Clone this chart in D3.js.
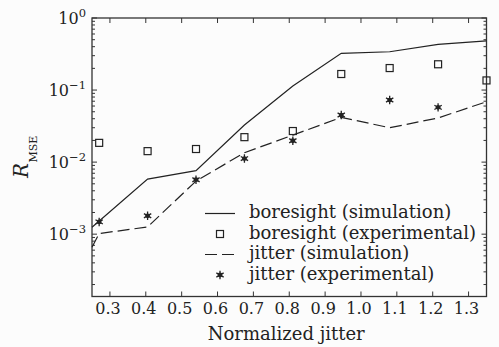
<!DOCTYPE html>
<html>
<head>
<meta charset="utf-8">
<script src="https://cdn.jsdelivr.net/npm/d3@7"></script>
<style>
  body { margin: 0; background: #fcfcfc; }
  svg { display: block; }
</style>
</head>
<body>
<div id="chart"></div>
<script>
// values
const xExp = [0.27, 0.405, 0.54, 0.675, 0.81, 0.945, 1.08, 1.215, 1.35];
const boresightExp = [0.0185, 0.0142, 0.0152, 0.0222, 0.027, 0.167, 0.202, 0.228, 0.136];
const jitterExp = [0.00148, 0.0018, 0.0057, 0.0112, 0.0198, 0.045, 0.0727, 0.0575];

const xBoreSim = [0.25, 0.405, 0.54, 0.675, 0.81, 0.945, 1.08, 1.215, 1.35];
const boresightSim = [0.00125, 0.0058, 0.0076, 0.0327, 0.114, 0.323, 0.34, 0.43, 0.48];

const xJitSim = [0.25, 0.27, 0.405, 0.54, 0.675, 0.81, 0.945, 1.08, 1.215, 1.35];
const jitterSim = [0.00066, 0.00102, 0.00126, 0.00545, 0.0135, 0.0237, 0.0418, 0.030, 0.041, 0.0688];

const xTicks = [0.3, 0.4, 0.5, 0.6, 0.7, 0.8, 0.9, 1.0, 1.1, 1.2, 1.3];
const yTickExps = [0, -1, -2, -3];

const legendLabels = [
    "boresight (simulation)",
    "boresight (experimental)",
    "jitter (simulation)",
    "jitter (experimental)"
];

const width = 499, height = 347;
const margin = { top: 18, right: 12.5, bottom: 50.5, left: 92 };
const ink = "#222";
const serif = "'DejaVu Serif', serif";

const svg = d3.select("#chart").append("svg")
    .attr("width", width).attr("height", height)
    .style("background", "#fcfcfc");

const x = d3.scaleLinear().domain([0.25, 1.35]).range([margin.left, width - margin.right]);
const y = d3.scaleLog().domain([Math.pow(10, -3.865), 1]).range([height - margin.bottom, margin.top]);

const [x0, x1] = x.range();
const [y0, y1] = y.range(); // y0 bottom, y1 top

// ticks: major + minor, drawn inward on all sides
const minorY = [];
for (let e = -4; e < 0; e++) {
    for (let m = 2; m <= 9; m++) {
        const v = m * Math.pow(10, e);
        if (v >= y.domain()[0] && v <= 1) minorY.push(v);
    }
}
const majorY = yTickExps.map(e => Math.pow(10, e));

const tickG = svg.append("g").attr("stroke", "#333").attr("stroke-width", 1);
[[x0, 1], [x1, -1]].forEach(([xx, dir]) => {
    tickG.selectAll(null).data(majorY).join("line")
        .attr("x1", xx).attr("x2", xx + dir * 5)
        .attr("y1", d => y(d)).attr("y2", d => y(d));
    tickG.selectAll(null).data(minorY).join("line")
        .attr("x1", xx).attr("x2", xx + dir * 3)
        .attr("y1", d => y(d)).attr("y2", d => y(d));
});
[[y0, -1], [y1, 1]].forEach(([yy, dir]) => {
    tickG.selectAll(null).data(xTicks).join("line")
        .attr("x1", d => x(d)).attr("x2", d => x(d))
        .attr("y1", yy).attr("y2", yy + dir * 5);
});

// frame
svg.append("rect")
    .attr("x", x0).attr("y", y1)
    .attr("width", x1 - x0).attr("height", y0 - y1)
    .attr("fill", "none").attr("stroke", "#333").attr("stroke-width", 1.3);

// x tick labels
svg.append("g").selectAll("text").data(xTicks).join("text")
    .attr("x", d => x(d) - 2).attr("y", y0 + 17)
    .attr("text-anchor", "middle")
    .attr("font-family", serif).attr("font-size", 16).attr("fill", ink)
    .text(d => d3.format(".1f")(d));

// y tick labels as 10^n
const yl = svg.append("g").selectAll("text").data(yTickExps).join("text")
    .attr("x", 86).attr("y", d => y(Math.pow(10, d)) + 5.5)
    .attr("text-anchor", "end")
    .attr("font-family", serif).attr("font-size", 16).attr("fill", ink);
yl.append("tspan").text("10");
yl.append("tspan").attr("dy", -7).attr("font-size", 11.5)
    .text(d => d === 0 ? "0" : "\u2212" + (-d));

// axis titles
svg.append("text")
    .attr("x", (x0 + x1) / 2 - 3).attr("y", 340)
    .attr("text-anchor", "middle")
    .attr("font-family", serif).attr("font-size", 18).attr("fill", ink)
    .text("Normalized jitter");

const yt = svg.append("text")
    .attr("transform", "translate(28,178) rotate(-90)")
    .attr("font-family", serif).attr("fill", ink);
yt.append("tspan").attr("font-size", 20).attr("font-style", "italic").text("R");
yt.append("tspan").attr("font-size", 11).attr("dy", 8.5).attr("dx", 0.5).text("MSE");

// lines
const plot = svg.append("g");
const line = d3.line().x(d => x(d[0])).y(d => y(d[1]));

plot.append("path")
    .datum(xBoreSim.map((v, i) => [v, boresightSim[i]]))
    .attr("d", line).attr("fill", "none")
    .attr("stroke", ink).attr("stroke-width", 1.2);

plot.append("path")
    .datum(xJitSim.map((v, i) => [v, jitterSim[i]]))
    .attr("d", line).attr("fill", "none")
    .attr("stroke", ink).attr("stroke-width", 1.2)
    .attr("stroke-dasharray", "12,5");

// markers
const star = d3.symbol().type(d3.symbolAsterisk).size(50);
function drawStar(g, cx, cy) {
    g.append("path").attr("d", star())
        .attr("transform", `translate(${cx},${cy})`)
        .attr("fill", "none").attr("stroke", ink).attr("stroke-width", 1.3);
    g.append("circle").attr("cx", cx).attr("cy", cy).attr("r", 2.4).attr("fill", ink);
}
function drawSquare(g, cx, cy) {
    g.append("rect").attr("x", cx - 3.5).attr("y", cy - 3.5)
        .attr("width", 7).attr("height", 7)
        .attr("fill", "none").attr("stroke", ink).attr("stroke-width", 1.2);
}

boresightExp.forEach((v, i) => drawSquare(plot, x(xExp[i]), y(v)));
jitterExp.forEach((v, i) => drawStar(plot, x(xExp[i]), y(v)));

// legend
const lg = svg.append("g");
const legRows = [213.5, 234, 254.5, 275];
const lx0 = 205, lx1 = 235, ltx = 249;
lg.append("line").attr("x1", lx0).attr("x2", lx1).attr("y1", legRows[0]).attr("y2", legRows[0])
    .attr("stroke", ink).attr("stroke-width", 1.2);
drawSquare(lg, (lx0 + lx1) / 2, legRows[1]);
lg.append("line").attr("x1", lx0).attr("x2", lx1).attr("y1", legRows[2]).attr("y2", legRows[2])
    .attr("stroke", ink).attr("stroke-width", 1.2).attr("stroke-dasharray", "12,5");
drawStar(lg, (lx0 + lx1) / 2, legRows[3]);

lg.selectAll("text").data(legendLabels).join("text")
    .attr("x", ltx).attr("y", (d, i) => legRows[i] + 4.5)
    .attr("font-family", serif).attr("font-size", 18).attr("fill", ink)
    .text(d => d);
</script>
</body>
</html>
